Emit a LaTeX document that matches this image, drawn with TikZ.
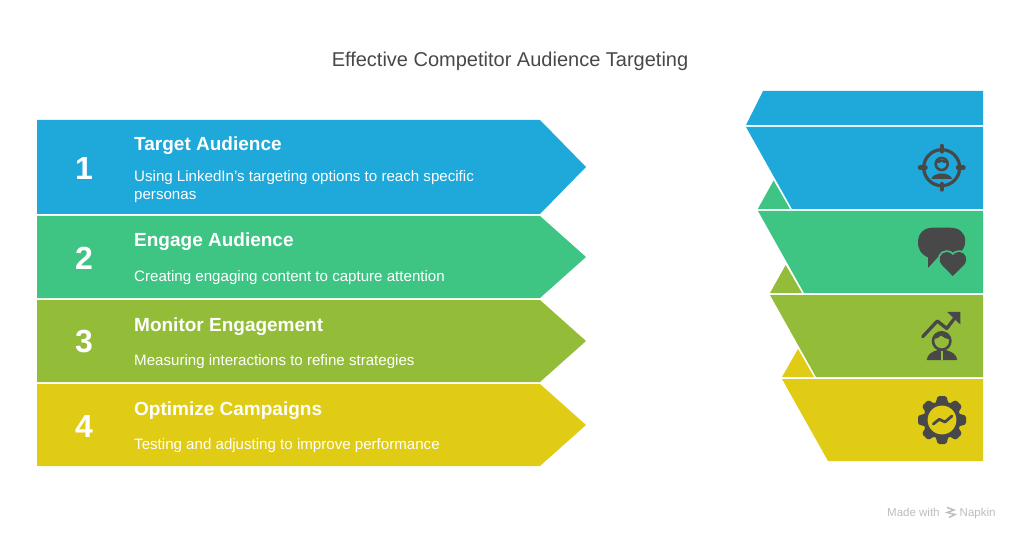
\documentclass[tikz,border=0pt]{standalone}
\usepackage{fontspec}
\setmainfont{Liberation Sans}
\definecolor{cblue}{HTML}{1EA9DA}
\definecolor{cgreen}{HTML}{3EC584}
\definecolor{colive}{HTML}{93BD39}
\definecolor{cyellow}{HTML}{E0CB15}
\definecolor{cdark}{HTML}{484848}
\definecolor{cmark}{HTML}{BDBDBD}
\tikzset{
  numtext/.style={text=white,font=\fontsize{32}{32}\selectfont\bfseries,anchor=center},
  headtext/.style={text=white,font=\fontsize{19}{19}\selectfont\bfseries,anchor=base west,inner sep=0pt},
  desctext/.style={text=white,font=\fontsize{15.1}{18}\selectfont,anchor=base west,inner sep=0pt},
  icon/.style={draw=cdark,line width=3pt,line cap=round,line join=round}
}
\begin{document}
\begin{tikzpicture}[x=1pt,y=-1pt]
\useasboundingbox (0,0) rectangle (1020,540);
\fill[white] (0,0) rectangle (1020,540);
% left arrows
\fill[cblue] (37,120)--(540,120)--(586,167)--(540,214)--(37,214)--cycle;
\fill[cgreen] (37,216)--(540,216)--(586,257)--(540,298)--(37,298)--cycle;
\fill[colive] (37,300)--(540,300)--(586,341)--(540,382)--(37,382)--cycle;
\fill[cyellow] (37,384)--(540,384)--(586,425)--(540,466)--(37,466)--cycle;
% right funnel
\fill[cblue] (763,91)--(983,91)--(983,125)--(746,125)--cycle;
\fill[cblue] (746,127)--(983,127)--(983,209)--(792,209)--cycle;
\fill[cgreen] (773.6,180.5)--(790,209)--(757.8,209)--cycle;
\fill[cgreen] (758,211)--(983,211)--(983,293)--(804,293)--cycle;
\fill[colive] (785.7,265)--(802,293)--(770,293)--cycle;
\fill[colive] (770,295)--(983,295)--(983,377)--(816,377)--cycle;
\fill[cyellow] (798,349)--(814,377)--(782,377)--cycle;
\fill[cyellow] (782,379)--(983,379)--(983,461)--(828,461)--cycle;
% texts
\node[text=cdark,font=\fontsize{20}{20}\selectfont,anchor=base,inner sep=0pt] (title) at (510,67) {Effective Competitor Audience Targeting};
\node[numtext] (n1) at (84,168) {1};
\node[numtext] (n2) at (84,258) {2};
\node[numtext] (n3) at (84,342) {3};
\node[numtext] (n4) at (84,426) {4};
\node[headtext] (h1) at (134,151) {Target Audience};
\node[desctext] (d1a) at (134,182) {Using LinkedIn's targeting options to reach specific};
\node[desctext] (d1b) at (134,200) {personas};
\node[headtext] (h2) at (134,247) {Engage Audience};
\node[desctext] (d2) at (134,281) {Creating engaging content to capture attention};
\node[headtext] (h3) at (134,331) {Monitor Engagement};
\node[desctext] (d3) at (134,365) {Measuring interactions to refine strategies};
\node[headtext] (h4) at (134,415) {Optimize Campaigns};
\node[desctext] (d4) at (134,449) {Testing and adjusting to improve performance};
\node[text=cmark,font=\fontsize{11.5}{12}\selectfont,anchor=base west,inner sep=0pt] (m1) at (887,516) {Made with};
\node[text=cmark,font=\fontsize{11.5}{12}\selectfont,anchor=base west,inner sep=0pt] (m2) at (959.5,516) {Napkin};
\draw[cmark,line width=1.4pt] (947,507.5)--(954,510)--(947,512.5)--(955,514.5)--(949,517.5);
% target icon
\draw[icon,line width=3.2pt] (941.7,167.7) circle (18);
\draw[icon,line width=4.4pt] (941.7,146)--(941.7,151.5) (941.7,184)--(941.7,189.5) (920,167.7)--(925.5,167.7) (958,167.7)--(963.5,167.7);
\draw[icon,line width=2.6pt] (941.7,164) circle (6);
\fill[cdark] (935.8,163) .. controls (937,158.5) and (946,158.5) .. (947.6,163) .. controls (944.5,163.5) and (942.5,163) .. (941.7,161.5) .. controls (940.5,163) and (938.5,163.5) .. (935.8,163) -- cycle;
\fill[cdark] (931.5,179) .. controls (932,175.5) and (936,174.5) .. (939,173.6) -- (944.4,173.6) .. controls (947.5,174.5) and (951.5,175.5) .. (952,179) -- cycle;
% chat icon
\fill[cdark] (933,227.7) -- (950,227.7) .. controls (959,227.7) and (965.2,232.5) .. (965.2,241) .. controls (965.2,251) and (957,256.5) .. (948,256.5) -- (937.5,257.5) -- (928,268) -- (928,257.5) .. controls (922,255) and (918,250) .. (918,242.5) .. controls (918,233) and (924,227.7) .. (933,227.7) -- cycle;
\fill[cdark,preaction={draw=cgreen,line width=3.6pt,line join=round}] (952.7,276) -- (942,265) .. controls (937,259.5) and (940.5,252) .. (946.7,252) .. controls (949.5,252) and (951.5,253.3) .. (952.9,255.3) .. controls (954.3,253.3) and (956.5,252) .. (959.3,252) .. controls (965.5,252) and (968.5,259.5) .. (964,265) -- cycle;
% growth person icon
\draw[icon,line width=3.3pt] (922.7,336.7)--(937.3,321)--(946.7,328.5)--(954,319);
\fill[cdark] (947,311.8)--(960.3,311.8)--(960.3,324.5)--cycle;
\draw[icon,line width=2.6pt] (941.7,341) circle (8.7);
\fill[cdark] (933.5,339) .. controls (934,330.5) and (949.5,330.5) .. (950,339) .. controls (946,339) and (943,337.5) .. (941,335.5) .. controls (939,338) and (936,339) .. (933.5,339) -- cycle;
\fill[cdark] (926.7,360) .. controls (927.5,354) and (932,351.5) .. (938,350) -- (945.5,350) .. controls (951.5,351.5) and (956.5,354) .. (957.3,360) -- cycle;
\fill[colive] (940.7,351) rectangle (942.7,360);
% gear icon
\fill[cdark] (942,420) circle (18.8);
\foreach \a in {0,45,...,315}{
  \fill[cdark,rotate around={\a:(942,420)},rounded corners=1.6pt] (935.5,404)--(937.6,396)--(946.4,396)--(948.5,404)--cycle;
}
\fill[cyellow] (942,420) circle (14.4);
\draw[icon,line width=2.8pt] (933.3,424)--(939.3,419.3)--(945,422)--(952,416);
\end{tikzpicture}
\end{document}
